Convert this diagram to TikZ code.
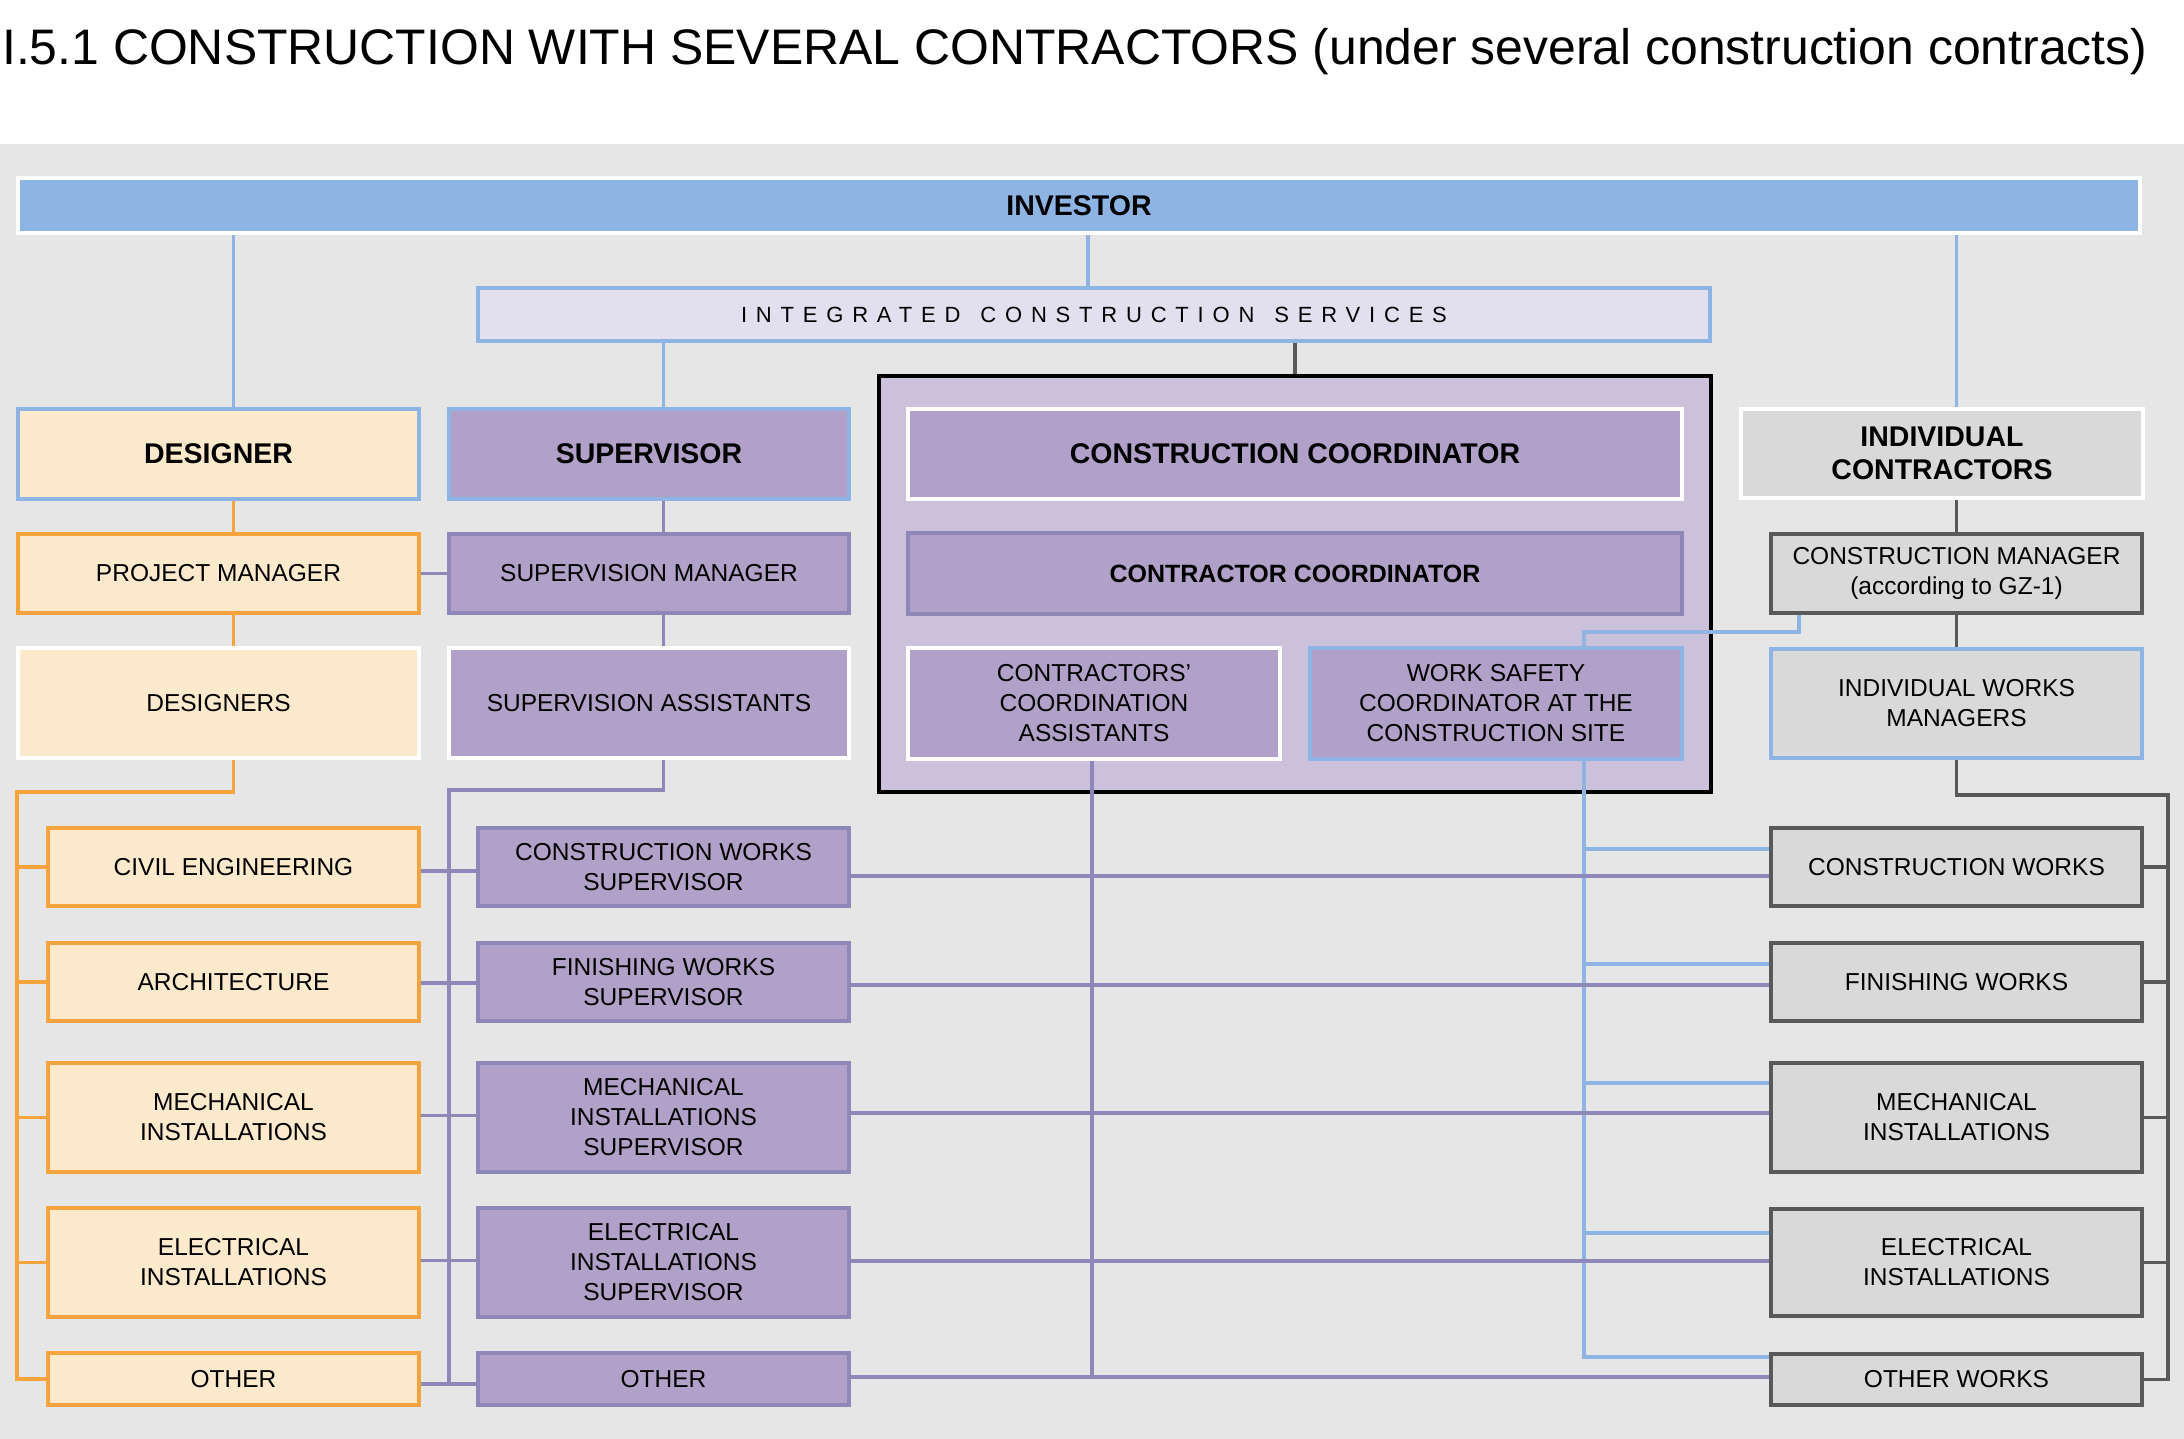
\documentclass[tikz,border=0pt]{standalone}
\usepackage{fontspec}
\setmainfont{Liberation Sans}
\usetikzlibrary{calc}
\definecolor{bgc}{HTML}{E6E6E6}
\definecolor{invc}{HTML}{8EB4E3}
\definecolor{blc}{HTML}{8EB4E3}
\definecolor{icsc}{HTML}{E2DFEE}
\definecolor{purf}{HTML}{B1A0C7}
\definecolor{purl}{HTML}{8E88B8}
\definecolor{cbf}{HTML}{CCC1DA}
\definecolor{peach}{HTML}{FDE9CC}
\definecolor{orl}{HTML}{F7A43E}
\definecolor{grf}{HTML}{D9D9D9}
\definecolor{dgl}{HTML}{595959}
\newcommand\regf{\fontsize{24.5}{30}\selectfont}
\newcommand\hdrf{\fontsize{28.5}{33}\selectfont\bfseries}
\newcommand\mkbox[7]{\node[bx,#6,minimum width={(#4-#2-4)*1pt},minimum height={(#5-#3-4)*1pt}] (#1) at ({(#2+#4)/2},{(#3+#5)/2}) {#7};}
\tikzset{
  bx/.style={draw, line width=4pt, inner sep=0pt, align=center, font=\regf, text=black},
  hd/.style={font=\hdrf},
  conn/.style={line width=3.5pt},
  bl/.style={conn, draw=blc},
  pl/.style={conn, draw=purl},
  ol/.style={conn, draw=orl},
  gl/.style={conn, draw=dgl},
}
\begin{document}
\begin{tikzpicture}[x=1pt,y=-1pt]
\fill[white] (0,0) rectangle (2184,1439);
\fill[bgc] (0,144) rectangle (2184,1439);
\useasboundingbox (0,0) rectangle (2184,1439);

\node[anchor=base west, inner sep=0pt, font=\fontsize{49.9}{50}\selectfont] (title) at (2,65)
  {I.5.1 CONSTRUCTION WITH SEVERAL CONTRACTORS (under several construction contracts)};

% top level
\mkbox{inv}{16}{176}{2142}{235}{fill=invc,draw=white,hd}{INVESTOR}
\mkbox{ics}{476}{286}{1712}{343}{fill=icsc,draw=blc,font=\fontsize{22}{26}\selectfont}{\addfontfeature{LetterSpace=40}INTEGRATED\hspace{20pt}CONSTRUCTION\hspace{20pt}SERVICES}
\mkbox{cbig}{877}{374}{1713}{794}{fill=cbf,draw=black,line width=3.5pt}{}

% second level
\mkbox{des}{16}{407}{421}{501}{fill=peach,draw=blc,hd}{DESIGNER}
\mkbox{sup}{447}{407}{851}{501}{fill=purf,draw=blc,hd}{SUPERVISOR}
\mkbox{cc}{906}{407}{1684}{501}{fill=purf,draw=white,hd}{CONSTRUCTION COORDINATOR}
\mkbox{ic}{1739}{407}{2145}{500}{fill=grf,draw=white,hd}{INDIVIDUAL\\CONTRACTORS}

\mkbox{pm}{16}{532}{421}{615}{fill=peach,draw=orl}{PROJECT MANAGER}
\mkbox{sm}{447}{532}{851}{615}{fill=purf,draw=purl}{SUPERVISION MANAGER}
\mkbox{ccoord}{906}{531}{1684}{616}{fill=purf,draw=purl,font=\fontsize{25}{28}\selectfont\bfseries}{CONTRACTOR COORDINATOR}
\mkbox{cm}{1769}{532}{2144}{615}{fill=grf,draw=dgl}{CONSTRUCTION MANAGER\\(according to GZ-1)}

\mkbox{dsg}{16}{646}{421}{760}{fill=peach,draw=white}{DESIGNERS}
\mkbox{sa}{447}{646}{851}{760}{fill=purf,draw=white}{SUPERVISION ASSISTANTS}
\mkbox{cca}{906}{646}{1282}{761}{fill=purf,draw=white}{CONTRACTORS’\\COORDINATION\\ASSISTANTS}
\mkbox{ws}{1308}{646}{1684}{761}{fill=purf,draw=blc}{WORK SAFETY\\COORDINATOR AT THE\\CONSTRUCTION SITE}
\mkbox{iwm}{1769}{647}{2144}{760}{fill=grf,draw=blc}{INDIVIDUAL WORKS\\MANAGERS}

% rows
\mkbox{ce}{46}{826}{421}{908}{fill=peach,draw=orl}{CIVIL ENGINEERING}
\mkbox{sce}{476}{826}{851}{908}{fill=purf,draw=purl}{CONSTRUCTION WORKS\\SUPERVISOR}
\mkbox{gcw}{1769}{826}{2144}{908}{fill=grf,draw=dgl}{CONSTRUCTION WORKS}

\mkbox{arch}{46}{941}{421}{1023}{fill=peach,draw=orl}{ARCHITECTURE}
\mkbox{sfw}{476}{941}{851}{1023}{fill=purf,draw=purl}{FINISHING WORKS\\SUPERVISOR}
\mkbox{gfw}{1769}{941}{2144}{1023}{fill=grf,draw=dgl}{FINISHING WORKS}

\mkbox{mech}{46}{1061}{421}{1174}{fill=peach,draw=orl}{MECHANICAL\\INSTALLATIONS}
\mkbox{smech}{476}{1061}{851}{1174}{fill=purf,draw=purl}{MECHANICAL\\INSTALLATIONS\\SUPERVISOR}
\mkbox{gmech}{1769}{1061}{2144}{1174}{fill=grf,draw=dgl}{MECHANICAL\\INSTALLATIONS}

\mkbox{elec}{46}{1206}{421}{1319}{fill=peach,draw=orl}{ELECTRICAL\\INSTALLATIONS}
\mkbox{selec}{476}{1206}{851}{1319}{fill=purf,draw=purl}{ELECTRICAL\\INSTALLATIONS\\SUPERVISOR}
\mkbox{gelec}{1769}{1207}{2144}{1318}{fill=grf,draw=dgl}{ELECTRICAL\\INSTALLATIONS}

\mkbox{oth}{46}{1351}{421}{1407}{fill=peach,draw=orl}{OTHER}
\mkbox{soth}{476}{1351}{851}{1407}{fill=purf,draw=purl}{OTHER}
\mkbox{gow}{1769}{1352}{2144}{1407}{fill=grf,draw=dgl}{OTHER WORKS}

% ---- connectors ----
% blue
\draw[bl] (inv.south -| ce.north) -- (des.north -| ce.north);
\draw[bl] ([xshift=-6pt]ics.north) -- ([xshift=-6pt]ics.north |- inv.south);
\draw[bl] (ics.south -| sce.north) -- (sup.north -| sce.north);
\draw[bl] (inv.south -| cm.north) -- (ic.north -| cm.north);
\coordinate (j1) at (1584,632);
\draw[bl] ([xshift=-157.5pt]cm.south) |- (j1) -- (j1 |- ws.north);
\coordinate (bw) at (1584,1357);
\draw[bl] (j1 |- ws.south) -- (bw) -- (bw -| gow.west);
\foreach \yy/\nn in {849/gcw,964/gfw,1083/gmech,1233/gelec}{
  \coordinate (t) at (1584,\yy);
  \draw[bl] (t) -- (t -| \nn.west);
}
% dark gray
\draw[gl] (ics.south -| cbig.north) -- (cbig.north);
\draw[gl] (ic.south -| cm.north) -- (cm.north);
\draw[gl] (cm.south) -- (iwm.north);
\coordinate (gb) at (2168,795);
\draw[gl] (iwm.south) |- (gb) |- (gow.east);
\foreach \nn in {gcw,gfw,gmech,gelec}{
  \draw[gl] (gb |- \nn.east) -- (\nn.east);
}
% purple
\draw[pl] (sup.south -| sce.north) -- (sm.north -| sce.north);
\draw[pl] (sm.south -| sce.north) -- (sa.north -| sce.north);
\draw[pl] (pm.east) -- (sm.west);
\coordinate (pb) at (449,790);
\coordinate (pbe) at (449,1384);
\draw[pl] (sa.south -| sce.north) |- (pb) -- (pbe);
\foreach \aa/\bb/\sh in {ce/sce/-4,arch/sfw/-1,mech/smech/2,elec/selec/2,oth/soth/-5}{
  \draw[pl] ([yshift=\sh pt]\aa.east) -- ([yshift=\sh pt]\bb.west);
}
\foreach \aa/\bb/\sh in {sce/gcw/-9,sfw/gfw/-3,smech/gmech/4.5,selec/gelec/1.5,soth/gow/2}{
  \draw[pl] ([yshift=\sh pt]\aa.east) -- ([yshift=\sh pt]\aa.east -| \bb.west);
}
\coordinate (ccab) at ([xshift=-2pt]cca.south);
\coordinate (sothr) at ([yshift=2pt]soth.east);
\draw[pl] (ccab) -- (ccab |- sothr);
% orange
\draw[ol] (des.south -| ce.north) -- (pm.north -| ce.north);
\draw[ol] (pm.south -| ce.north) -- (dsg.north -| ce.north);
\coordinate (ob) at (17,792);
\draw[ol] (dsg.south -| ce.north) |- (ob) |- (oth.west);
\foreach \nn in {ce,arch,mech,elec}{
  \draw[ol] (ob |- \nn.west) -- (\nn.west);
}
\end{tikzpicture}
\end{document}
